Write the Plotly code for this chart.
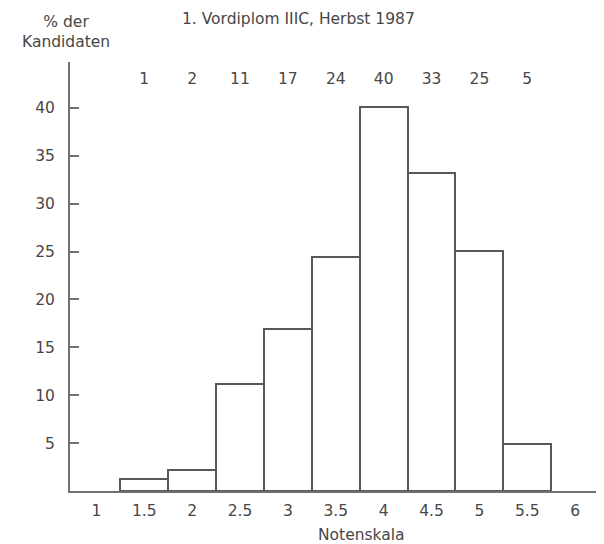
import plotly.graph_objects as go

grades = [1.5, 2, 2.5, 3, 3.5, 4, 4.5, 5, 5.5]
percent = [1.3, 2.2, 11.2, 16.9, 24.4, 40.1, 33.2, 25.1, 4.9]
counts = [1, 2, 11, 17, 24, 40, 33, 25, 5]
x_ticks = [1, 1.5, 2, 2.5, 3, 3.5, 4, 4.5, 5, 5.5, 6]
x_tick_labels = ["1", "1.5", "2", "2.5", "3", "3.5", "4", "4.5", "5", "5.5", "6"]
y_ticks = [5, 10, 15, 20, 25, 30, 35, 40]

title_text = "1. Vordiplom IIIC, Herbst 1987"
y_title = "% der<br>Kandidaten"
x_title = "Notenskala"

TXT = "#474747"
LINE = "#707070"
FONT = "DejaVu Sans"
FS = 15.5

# the page body has an 8px margin; figure pixel = window pixel - 8
OFF = 8
W, H = 604 - OFF, 544 - OFF
L, R, T, B = 70, 602, 62, 491          # plot area in window pixels
PW, PH = R - L, B - T


def px(xw):
    return (xw - L) / PW


def py(yw):
    return (B - yw) / PH


fig = go.Figure()
fig.add_trace(go.Bar(
    x=grades, y=percent, width=0.5,
    marker=dict(color="white", line=dict(color="#585858", width=2)),
    showlegend=False, hoverinfo="x+y",
))
fig.add_trace(go.Scatter(
    x=grades, y=[42.9] * len(grades), mode="text",
    text=[str(c) for c in counts],
    textfont=dict(family=FONT, size=FS, color=TXT),
    showlegend=False, hoverinfo="skip", cliponaxis=False,
))
# end tick on the x axis
fig.add_trace(go.Scatter(x=[6.25], y=[0], xaxis="x2", mode="markers",
                         marker=dict(opacity=0), showlegend=False, hoverinfo="skip"))

fig.update_layout(
    width=W, height=H,
    margin=dict(l=L - OFF, r=W - (R - OFF), t=T - OFF, b=H - (B - OFF)),
    paper_bgcolor="white", plot_bgcolor="white",
    font=dict(family=FONT, size=FS, color=TXT),
    bargap=0,
    xaxis=dict(range=[0.725, 6.28], tickvals=x_ticks, ticktext=x_tick_labels,
               showgrid=False, zeroline=False, showline=True, linecolor=LINE,
               linewidth=2, ticks="", ticklabelstandoff=4,
               tickfont=dict(family=FONT, size=FS, color=TXT)),
    xaxis2=dict(overlaying="x", matches="x", anchor="y", side="bottom",
                tickvals=[6.25], ticks="inside", ticklen=7, tickwidth=2,
                tickcolor=LINE, showticklabels=False, showgrid=False,
                zeroline=False, showline=False),
    yaxis=dict(range=[0, 44.8], tickvals=y_ticks, showgrid=False, zeroline=False,
               showline=True, linecolor=LINE, linewidth=2, ticks="inside",
               ticklen=9, tickwidth=1.5, tickcolor=LINE, ticklabelstandoff=10,
               tickfont=dict(family=FONT, size=FS, color=TXT)),
    annotations=[
        dict(text=title_text, xref="paper", yref="paper", x=px(180),
             y=py(19), xanchor="left", yanchor="middle",
             showarrow=False, font=dict(family=FONT, size=FS, color=TXT)),
        dict(text=y_title, xref="paper", yref="paper", x=px(66),
             y=py(32), xanchor="center", yanchor="middle",
             showarrow=False, align="center",
             font=dict(family=FONT, size=FS, color=TXT)),
        dict(text=x_title, xref="paper", yref="paper", x=px(361), y=py(535),
             xanchor="center", yanchor="middle", showarrow=False,
             font=dict(family=FONT, size=FS, color=TXT)),
    ],
)

fig.write_html("out.html")
